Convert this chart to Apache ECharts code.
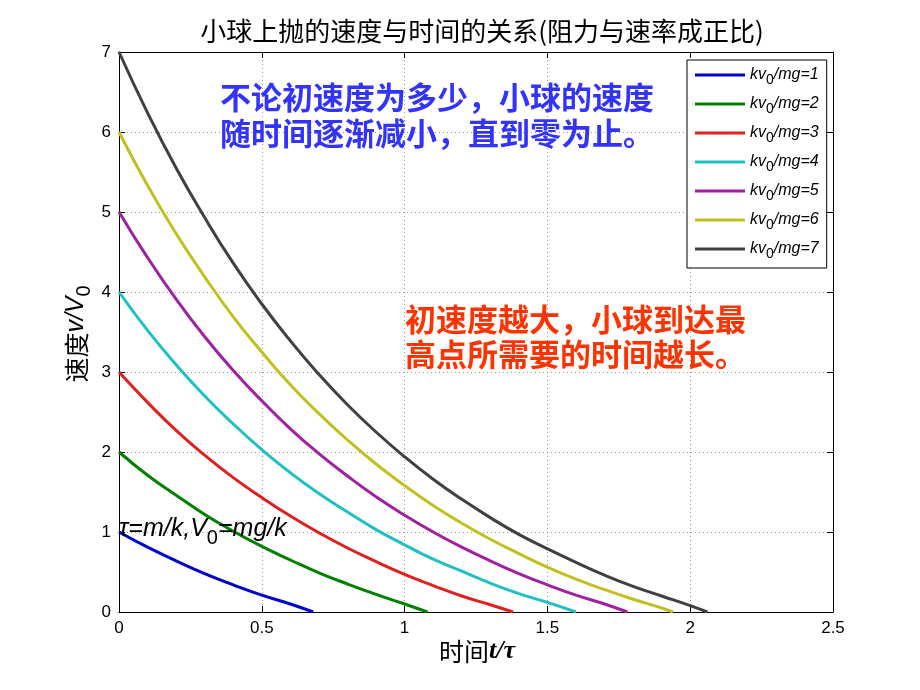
<!DOCTYPE html>
<html><head><meta charset="utf-8">
<script src="https://cdn.jsdelivr.net/npm/echarts@6/dist/echarts.min.js"></script>
<style>html,body{margin:0;padding:0;background:#fff}#c{width:920px;height:690px}</style>
</head><body><div id="c"></div>
<script>
// Times sampled along each curve (t/τ)
const times = [0, 0.1, 0.2, 0.3, 0.4, 0.5, 0.6, 0.7, 0.8, 0.9, 1.0, 1.1, 1.2, 1.3, 1.4, 1.5, 1.6, 1.7, 1.8, 1.9, 2.0];
// End time (v = 0) of each curve
const endTimes = [0.68, 1.08, 1.38, 1.60, 1.78, 1.94, 2.06];
// v/V0 values, one array per kv0/mg
const v1 = [1, 0.81, 0.64, 0.48, 0.34, 0.21, 0.10];
const v2 = [2, 1.71, 1.46, 1.22, 1.01, 0.82, 0.65, 0.49, 0.35, 0.22, 0.10];
const v3 = [3, 2.62, 2.27, 1.96, 1.68, 1.43, 1.20, 0.99, 0.80, 0.63, 0.47, 0.33, 0.20, 0.09];
const v4 = [4, 3.52, 3.09, 2.70, 2.35, 2.03, 1.74, 1.48, 1.25, 1.03, 0.84, 0.66, 0.51, 0.36, 0.23, 0.12];
const v5 = [5, 4.43, 3.91, 3.44, 3.02, 2.64, 2.29, 1.98, 1.70, 1.44, 1.21, 1.00, 0.81, 0.64, 0.48, 0.34, 0.21, 0.10];
const v6 = [6, 5.33, 4.73, 4.19, 3.69, 3.25, 2.84, 2.48, 2.15, 1.85, 1.58, 1.33, 1.11, 0.91, 0.73, 0.56, 0.41, 0.28, 0.16, 0.05];
const v7 = [7, 6.24, 5.55, 4.93, 4.36, 3.85, 3.39, 2.97, 2.59, 2.25, 1.94, 1.66, 1.41, 1.18, 0.97, 0.79, 0.62, 0.46, 0.32, 0.20, 0.08];
const ratios = [1, 2, 3, 4, 5, 6, 7];
const xTicks = [0, 0.5, 1, 1.5, 2, 2.5];
const yTicks = [0, 1, 2, 3, 4, 5, 6, 7];
const seriesValues = [v1, v2, v3, v4, v5, v6, v7];
const colors = ['#0000cc', '#008000', '#e02020', '#20c0c0', '#a020a0', '#c0c020', '#404040'];

const chart = echarts.init(document.getElementById('c'));
const names = ratios.map(r => 'kv0/mg=' + r);
const series = seriesValues.map((vals, i) => {
  const data = vals.map((v, j) => [times[j], v]);
  data.push([endTimes[i], 0]);
  return {
    name: names[i], type: 'line', smooth: true, symbol: 'none',
    data: data, lineStyle: { width: 3, color: colors[i] }, itemStyle: { color: colors[i] },
    z: 3
  };
});
const axisLineBlack = () => ({ show: true, onZero: false, lineStyle: { color: '#000', width: 1 } });
const tickInside = () => ({ show: true, inside: true, length: 6, lineStyle: { color: '#000' } });
const gridDotted = () => ({ show: true, lineStyle: { color: '#999', type: [1, 3], width: 1 } });
chart.setOption({
  animation: false,
  backgroundColor: '#fff',
  title: {
    text: '小球上抛的速度与时间的关系(阻力与速率成正比)',
    left: 477, top: 13, textAlign: 'center',
    textStyle: { fontFamily: 'Noto Sans CJK SC', fontSize: 26, fontWeight: 'normal', color: '#000' }
  },
  grid: { left: 119, right: 87, top: 52, bottom: 78 },
  legend: {
    data: names, orient: 'vertical', left: 687, top: 60,
    backgroundColor: '#fff', borderColor: '#000', borderWidth: 1,
    padding: [7, 8, 7, 8], itemGap: 9, itemWidth: 50, itemHeight: 3, icon: 'rect',
    formatter: function (n) { return '{i|kv}{s|0}{i|/mg=' + n.split('=')[1] + '}'; },
    textStyle: {
      color: '#000', fontFamily: 'Liberation Sans', fontSize: 16,
      rich: {
        i: { fontStyle: 'italic', fontSize: 16, fontFamily: 'Liberation Sans', color: '#000', height: 20 },
        s: { fontSize: 14, fontFamily: 'Liberation Sans', color: '#000', padding: [10, 0, 0, 0], height: 20 }
      }
    }
  },
  xAxis: [{
    type: 'value', min: 0, max: 2.5, interval: 0.5,
    axisLine: axisLineBlack(), axisTick: tickInside(), splitLine: gridDotted(),
    axisLabel: { color: '#000', fontSize: 17, fontFamily: 'Liberation Sans', margin: 8,
      formatter: v => xTicks.indexOf(v) >= 0 ? String(v) : '' }
  }, {
    type: 'value', position: 'top', min: 0, max: 2.5, interval: 0.5,
    axisLine: axisLineBlack(), axisTick: tickInside(), splitLine: { show: false }, axisLabel: { show: false }
  }],
  yAxis: [{
    type: 'value', min: 0, max: 7, interval: 1,
    axisLine: axisLineBlack(), axisTick: tickInside(), splitLine: gridDotted(),
    axisLabel: { color: '#000', fontSize: 17, fontFamily: 'Liberation Sans', margin: 8,
      formatter: v => yTicks.indexOf(v) >= 0 ? String(v) : '' }
  }, {
    type: 'value', position: 'right', min: 0, max: 7, interval: 1,
    axisLine: axisLineBlack(), axisTick: tickInside(), splitLine: { show: false }, axisLabel: { show: false }
  }],
  series: series,
  graphic: [
    {
      type: 'text', left: 220, top: 79, z: 10,
      style: {
        text: '不论初速度为多少，小球的速度\n随时间逐渐减小，直到零为止。',
        fill: '#3333ff', font: 'bold 31px "Noto Sans CJK SC"', lineHeight: 36
      }
    },
    {
      type: 'text', left: 405, top: 302, z: 10,
      style: {
        text: '初速度越大，小球到达最\n高点所需要的时间越长。',
        fill: '#ff3300', font: 'bold 31px "Noto Sans CJK SC"', lineHeight: 35
      }
    },
    {
      type: 'text', left: 119, top: 517, z: 10,
      style: {
        text: '{i|τ=m/k,V}{s|0}{i|=mg/k}',
        rich: {
          i: { fontStyle: 'italic', fontSize: 25, fontFamily: 'Liberation Sans', fill: '#000', height: 30 },
          s: { fontSize: 20, fontFamily: 'Liberation Sans', fill: '#000', padding: [17, 0, 0, 0], height: 30 }
        }
      }
    },
    {
      type: 'text', left: 439, top: 638, z: 10,
      style: {
        text: '{c|时间}{i|t/τ}',
        rich: {
          c: { fontSize: 25, fontFamily: 'Noto Sans CJK SC', fill: '#000' },
          i: { fontSize: 26, fontStyle: 'italic', fontWeight: 'bold', fontFamily: 'Liberation Serif', fill: '#000' }
        }
      }
    },
    {
      type: 'text', x: 76, y: 334, rotation: Math.PI / 2, z: 10,
      style: {
        text: '{c|速度}{i|v/V}{s|0}',
        align: 'center', verticalAlign: 'middle',
        rich: {
          c: { fontSize: 25, fontFamily: 'Noto Sans CJK SC', fill: '#000', height: 32 },
          i: { fontSize: 25, fontStyle: 'italic', fontFamily: 'Liberation Sans', fill: '#000', height: 32 },
          s: { fontSize: 20, fontFamily: 'Liberation Sans', fill: '#000', padding: [16, 0, 0, 0], height: 32 }
        }
      }
    }
  ]
});
</script></body></html>
